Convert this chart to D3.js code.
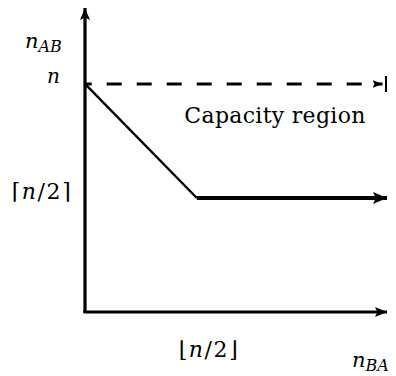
<!DOCTYPE html>
<html>
<head>
<meta charset="utf-8">
<script src="https://cdn.jsdelivr.net/npm/d3@7"></script>
<style>
  body { margin: 0; background: #fff; }
  svg text { font-family: "DejaVu Serif", serif; fill: #000; }
</style>
</head>
<body>
<svg id="chart" width="396" height="376"></svg>
<script>
// region boundary, in units of n
const boundaryX = [0, 0.5];
const boundaryY = [1, 0.5];
const tailX = [0.5, 1.35];
const tailY = [0.5, 0.5];
const capacityX = [0, 1.33];
const capacityY = [1, 1];

const yTickValues = [1, 0.5];
const yTickLabels = ['n', '⌈n/2⌉'];
const xTickValues = [0.5];
const xTickLabels = ['⌊n/2⌋'];

const svg = d3.select('#chart');

const x = d3.scaleLinear().domain([0, 1.35]).range([85, 387]);
const y = d3.scaleLinear().domain([0, 1.333]).range([312, 8]);

const defs = svg.append('defs');
const addArrow = (id, w, l) => {
  defs.append('marker')
      .attr('id', id)
      .attr('markerUnits', 'userSpaceOnUse')
      .attr('viewBox', `0 ${-w / 2} ${l} ${w}`)
      .attr('refX', l)
      .attr('refY', 0)
      .attr('markerWidth', l)
      .attr('markerHeight', w)
      .attr('orient', 'auto')
      .append('path')
      .attr('d', `M0,${-w / 2}L${l},0L0,${w / 2}L${l * 0.2},0Z`)
      .attr('fill', '#000');
};
addArrow('arrAxis', 10, 12);
addArrow('arrThick', 12, 14);
addArrow('arrSmall', 8, 10);

const line = d3.line().x((d) => x(d[0])).y((d) => y(d[1]));

// axes
svg.append('path')
   .attr('d', line([[0, 0], [0, 1.333]]))
   .attr('stroke', '#000').attr('stroke-width', 3.2).attr('fill', 'none')
   .attr('marker-end', 'url(#arrAxis)');
svg.append('path')
   .attr('d', line([[-0.008, 0], [1.35, 0]]))
   .attr('stroke', '#000').attr('stroke-width', 3.2).attr('fill', 'none')
   .attr('marker-end', 'url(#arrAxis)');

// capacity (dashed) with end bar
svg.append('path')
   .attr('d', line(capacityX.map((d, i) => [d, capacityY[i]])))
   .attr('stroke', '#000').attr('stroke-width', 3).attr('fill', 'none')
   .attr('stroke-dasharray', '15 15')
   .attr('stroke-dashoffset', 8.3)
   .attr('marker-end', 'url(#arrSmall)');
svg.append('line')
   .attr('x1', x(1.35) - 1).attr('x2', x(1.35) - 1)
   .attr('y1', y(capacityY[1]) - 8).attr('y2', y(capacityY[1]) + 8)
   .attr('stroke', '#000').attr('stroke-width', 2);

// boundary
svg.append('path')
   .attr('d', line(boundaryX.map((d, i) => [d, boundaryY[i]])))
   .attr('stroke', '#000').attr('stroke-width', 2.4).attr('fill', 'none');
svg.append('path')
   .attr('d', line(tailX.map((d, i) => [d, tailY[i]])))
   .attr('stroke', '#000').attr('stroke-width', 4).attr('fill', 'none')
   .attr('marker-end', 'url(#arrThick)');

const addChars = (t, s) => {
  s.split('').forEach((c) => {
    t.append('tspan').attr('font-style', c === 'n' ? 'italic' : 'normal').text(c);
  });
};

// tick labels
const yOffsets = [-25, -13];
svg.selectAll('text.ytick')
   .data(yTickValues)
   .enter()
   .append('text')
   .attr('class', 'ytick')
   .attr('x', (d, i) => x(0) + yOffsets[i])
   .attr('y', (d) => y(d) - (d === 1 ? 1 : -1))
   .attr('text-anchor', 'end')
   .attr('font-size', (d) => d === 1 ? 20 : 22)
   .attr('letter-spacing', (d) => d === 1 ? 0 : 1.5)
   .each(function (d, i) { addChars(d3.select(this), yTickLabels[i]); });

svg.selectAll('text.xtick')
   .data(xTickValues)
   .enter()
   .append('text')
   .attr('class', 'xtick')
   .attr('x', (d) => x(d) + 12)
   .attr('y', 357)
   .attr('text-anchor', 'middle')
   .attr('font-size', 22)
   .attr('letter-spacing', 1.5)
   .each(function (d, i) { addChars(d3.select(this), xTickLabels[i]); });

// axis titles
const title = (tx, ty, main, sub) => {
  const t = svg.append('text').attr('x', tx).attr('y', ty).attr('font-size', 21);
  t.append('tspan').attr('font-style', 'italic').text(main);
  t.append('tspan').attr('font-style', 'italic').attr('font-size', 16).attr('dy', 4).text(sub);
};
title(25, 48, 'n', 'AB');
title(352, 367, 'n', 'BA');

svg.append('text')
   .attr('x', 275)
   .attr('y', 123)
   .attr('text-anchor', 'middle')
   .attr('font-size', 22)
   .attr('letter-spacing', 0.3)
   .text('Capacity region');
</script>
</body>
</html>
